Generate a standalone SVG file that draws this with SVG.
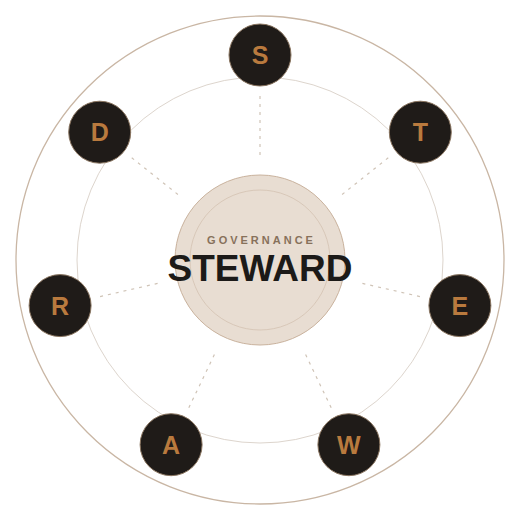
<svg xmlns="http://www.w3.org/2000/svg" width="520" height="520" viewBox="0 0 520 520">
<style>
.node circle{fill:#1f1b18;stroke:#8a7560;stroke-width:1}
.node text{font-family:"Liberation Sans",Arial,sans-serif;font-weight:bold;font-size:25px;fill:#b97a3e;text-anchor:middle}
.spoke{stroke:#cfc3b6;stroke-width:1.2;stroke-dasharray:3 5;fill:none}
</style>
<rect width="520" height="520" fill="#ffffff"/>
<circle cx="260" cy="260" r="244" fill="none" stroke="#c9b6a4" stroke-width="1.3"/>
<circle cx="260" cy="260" r="183" fill="none" stroke="#ddd5cd" stroke-width="1"/>
<g id="connectors">
<line class="spoke" x1="260" y1="155" x2="260" y2="93"/>
<line class="spoke" x1="342.1" y1="194.5" x2="390.6" y2="155.9"/>
<line class="spoke" x1="362.4" y1="283.4" x2="422.8" y2="297.2"/>
<line class="spoke" x1="305.6" y1="354.6" x2="332.5" y2="410.5"/>
<line class="spoke" x1="214.4" y1="354.6" x2="187.5" y2="410.5"/>
<line class="spoke" x1="157.6" y1="283.4" x2="97.2" y2="297.2"/>
<line class="spoke" x1="177.9" y1="194.5" x2="129.4" y2="155.9"/>
</g>
<g id="center">
<circle cx="260" cy="260" r="85" fill="#e8ddd2" stroke="#c9b29d" stroke-width="1"/>
<circle cx="260" cy="260" r="70" fill="none" stroke="#d3c2b1" stroke-width="0.8"/>
<text x="261.5" y="243.5" font-family="'Liberation Sans',Arial,sans-serif" font-weight="bold" font-size="11" letter-spacing="3" fill="#87715b" text-anchor="middle">GOVERNANCE</text>
<text x="260" y="281" font-family="'Liberation Sans',Arial,sans-serif" font-weight="bold" font-size="37" fill="#1c1a18" text-anchor="middle">STEWARD</text>
</g>
<g id="node-S" class="node"><circle cx="260" cy="55" r="31"/><text x="260" y="64">S</text></g>
<g id="node-T" class="node"><circle cx="420.3" cy="132.2" r="31"/><text x="420.3" y="141.2">T</text></g>
<g id="node-E" class="node"><circle cx="459.9" cy="305.6" r="31"/><text x="459.9" y="314.6">E</text></g>
<g id="node-W" class="node"><circle cx="348.9" cy="444.7" r="31"/><text x="348.9" y="453.7">W</text></g>
<g id="node-A" class="node"><circle cx="171.1" cy="444.7" r="31"/><text x="171.1" y="453.7">A</text></g>
<g id="node-R" class="node"><circle cx="60.1" cy="305.6" r="31"/><text x="60.1" y="314.6">R</text></g>
<g id="node-D" class="node"><circle cx="99.7" cy="132.2" r="31"/><text x="99.7" y="141.2">D</text></g>
</svg>
